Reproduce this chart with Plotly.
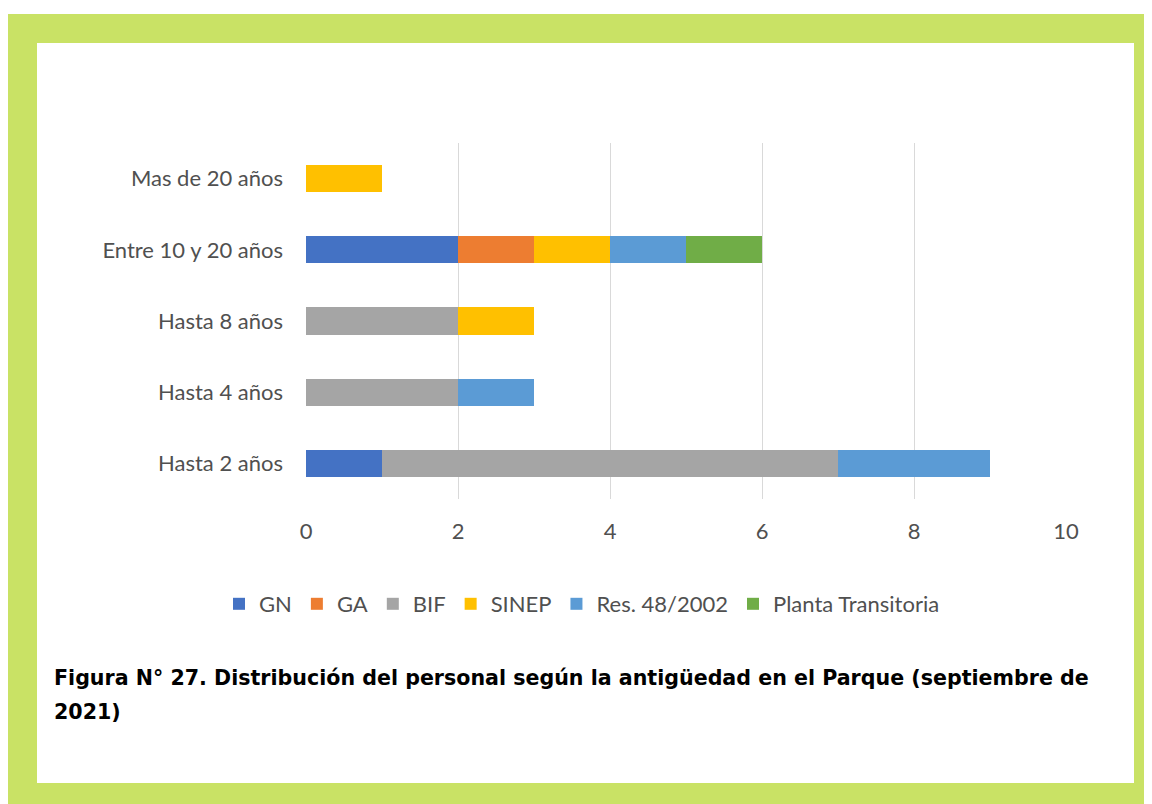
import plotly.graph_objects as go

categories = ["Hasta 2 años", "Hasta 4 años", "Hasta 8 años", "Entre 10 y 20 años", "Mas de 20 años"]
series_names = ["GN", "GA", "BIF", "SINEP", "Res. 48/2002", "Planta Transitoria"]
gn = [1, 0, 0, 2, 0]
ga = [0, 0, 0, 1, 0]
bif = [6, 2, 2, 0, 0]
sinep = [0, 0, 1, 1, 1]
res = [2, 1, 0, 1, 0]
planta = [0, 0, 0, 1, 0]
x_ticks = [0, 2, 4, 6, 8, 10]

colors = ["#4472C4", "#ED7D31", "#A5A5A5", "#FFC000", "#5B9BD5", "#70AD47"]
values = [gn, ga, bif, sinep, res, planta]

# page body has an 8px margin, so the figure is drawn 8px in from the corner
OFF = 8
W, H = 1152 - OFF, 804 - OFF
# plot area in screen pixels
L, R, T, B = 306, 1066, 143, 499


def px(x):
    return (x - L) / (R - L)


def py(y):
    return (B - y) / (B - T)


fig = go.Figure()
for name, vals, col in zip(series_names, values, colors):
    fig.add_trace(go.Bar(
        y=categories,
        x=vals,
        name=name,
        orientation="h",
        marker=dict(color=col, line=dict(width=0)),
    ))

font_chart = "Lato, Calibri, sans-serif"
fsize = 22

fig.update_layout(
    width=W,
    height=H,
    barmode="stack",
    bargap=0.62,
    margin=dict(l=L - OFF, r=1152 - R, t=T - OFF, b=804 - B, pad=0),
    paper_bgcolor="white",
    plot_bgcolor="rgba(0,0,0,0)",
    font=dict(family=font_chart, size=fsize, color="#505050"),
    showlegend=True,
    legend=dict(
        orientation="h",
        x=px(582), xanchor="center",
        y=py(604), yanchor="middle",
        font=dict(family=font_chart, size=fsize, color="#505050"),
        bgcolor="rgba(0,0,0,0)",
        traceorder="normal",
        itemwidth=30,
    ),
    shapes=[
        dict(type="rect", xref="paper", yref="paper", layer="below",
             x0=px(7), x1=px(1160), y0=py(14), y1=py(812),
             fillcolor="#C9E265", line=dict(width=0)),
        dict(type="rect", xref="paper", yref="paper", layer="below",
             x0=px(37), x1=px(1134), y0=py(43), y1=py(783),
             fillcolor="white", line=dict(width=0)),
    ],
    annotations=[
        dict(text="<b>Figura N° 27. Distribución del personal según la antigüedad en el Parque (septiembre de</b>",
             xref="paper", yref="paper", x=px(52), y=py(678),
             xanchor="left", yanchor="middle", showarrow=False,
             font=dict(family="DejaVu Sans", size=20.6, color="black")),
        dict(text="<b>2021)</b>",
             xref="paper", yref="paper", x=px(52), y=py(712),
             xanchor="left", yanchor="middle", showarrow=False,
             font=dict(family="DejaVu Sans", size=20.6, color="black")),
    ],
)

fig.update_xaxes(
    range=[0, 10],
    tickvals=x_ticks,
    showgrid=True,
    gridcolor="#D9D9D9",
    gridwidth=1,
    zeroline=False,
    showline=False,
    ticks="",
    ticklabelstandoff=17,
    fixedrange=True,
)
fig.update_yaxes(
    categoryorder="array",
    categoryarray=categories,
    showgrid=False,
    showline=False,
    ticks="",
    ticklabelstandoff=22,
    fixedrange=True,
)

fig.write_html("out.html")
